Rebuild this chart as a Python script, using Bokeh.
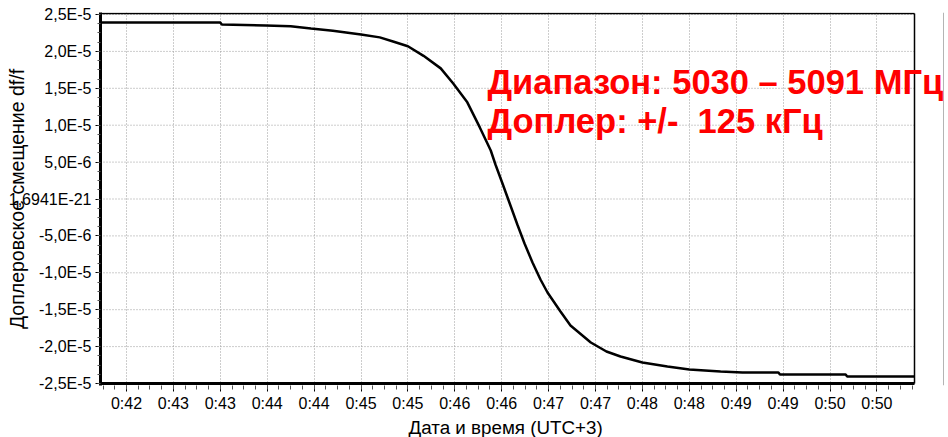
import numpy as np
from bokeh.plotting import figure
from bokeh.models import FixedTicker, Label, Range1d, Title
from bokeh.embed import file_html
from bokeh.resources import INLINE

# ---- data ----
times = ["0:42:13", "0:43:30", "0:43:31", "0:43:59", "0:44:15", "0:44:28", "0:44:42",
         "0:45:00", "0:45:12", "0:45:21", "0:45:30", "0:45:40", "0:45:51", "0:45:59",
         "0:46:08", "0:46:16", "0:46:23", "0:46:26", "0:46:30.5", "0:46:35.6", "0:46:40",
         "0:46:44.6", "0:46:49.7", "0:46:54.8", "0:46:59.3", "0:47:07.6", "0:47:14",
         "0:47:27", "0:47:37", "0:47:46", "0:48:00", "0:48:16", "0:48:30", "0:48:50",
         "0:49:04", "0:49:27", "0:49:28", "0:50:10", "0:50:11", "0:50:54"]
doppler = [2.39e-5, 2.39e-5, 2.365e-5, 2.35e-5, 2.34e-5, 2.31e-5, 2.28e-5,
           2.23e-5, 2.19e-5, 2.13e-5, 2.07e-5, 1.94e-5, 1.77e-5, 1.565e-5,
           1.31e-5, 0.97e-5, 0.657e-5, 0.4675e-5, 0.21e-5, -0.088e-5, -0.346e-5,
           -0.603e-5, -0.86e-5, -1.091e-5, -1.267e-5, -1.524e-5, -1.714e-5,
           -1.944e-5, -2.066e-5, -2.134e-5, -2.215e-5, -2.27e-5, -2.31e-5, -2.337e-5,
           -2.35e-5, -2.35e-5, -2.378e-5, -2.378e-5, -2.405e-5, -2.405e-5]

x_tick_times = ["0:42:30", "0:43:00", "0:43:30", "0:44:00", "0:44:30", "0:45:00",
                "0:45:30", "0:46:00", "0:46:30", "0:47:00", "0:47:30", "0:48:00",
                "0:48:30", "0:49:00", "0:49:30", "0:50:00", "0:50:30"]
x_tick_labels = ["0:42", "0:43", "0:43", "0:44", "0:44", "0:45", "0:45", "0:46",
                 "0:46", "0:47", "0:47", "0:48", "0:48", "0:49", "0:49", "0:50", "0:50"]

y_ticks = [-2.5e-5, -2.0e-5, -1.5e-5, -1.0e-5, -5.0e-6, 0.0,
           5.0e-6, 1.0e-5, 1.5e-5, 2.0e-5, 2.5e-5]
y_tick_labels = ["-2,5E-5", "-2,0E-5", "-1,5E-5", "-1,0E-5", "-5,0E-6", "1,6941E-21",
                 "5,0E-6", "1,0E-5", "1,5E-5", "2,0E-5", "2,5E-5"]

x_title = "Дата и время (UTC+3)"
y_title = "Доплеровское смещение df/f"
note_line1 = "Диапазон: 5030 – 5091 МГц"
note_line2 = "Доплер: +/-\u00a0 125 кГц"


def to_sec(s):
    h, m, sec = s.split(":")
    return int(h) * 3600 + int(m) * 60 + float(sec)


# ---- layout (pixel geometry of the reference) ----
W, H = 948, 437
FRAME_L, FRAME_R, FRAME_T, FRAME_B = 100, 946, 12, 385
T0 = to_sec(x_tick_times[0])
T0_PX, PX_PER_30S = 126.0, 46.9
Y_TOP_PX, Y_BOT_PX = 14.0, 383.0
Y_TOP, Y_BOT = y_ticks[-1], y_ticks[0]


def xd(px):
    return T0 + (px - T0_PX) * 30.0 / PX_PER_30S


def yd(py):
    return Y_TOP - (py - Y_TOP_PX) * (Y_TOP - Y_BOT) / (Y_BOT_PX - Y_TOP_PX)


BOX_R = xd(914)        # right edge of the plot box
BOX_T = yd(13)         # top edge of the plot box
GRAY_X = xd(943)       # thin gray page border line

xs = [to_sec(t) for t in times]
xt = [to_sec(t) for t in x_tick_times]
x_minor = [v for v in np.arange(xt[0] - 30, xt[-1] + 30.01, 7.5) if v < BOX_R]
y_minor = list(np.arange(Y_BOT, Y_TOP + 1e-12, (y_ticks[1] - y_ticks[0]) / 4))

FONT = "Liberation Sans"

p = figure(width=W, height=H, output_backend="svg", toolbar_location=None,
           x_range=Range1d(xd(FRAME_L), xd(FRAME_R)),
           y_range=Range1d(yd(FRAME_B), yd(FRAME_T)),
           min_border_left=FRAME_L, min_border_right=W - FRAME_R,
           min_border_top=FRAME_T, min_border_bottom=H - FRAME_B)
p.outline_line_color = None
p.background_fill_color = "white"
p.border_fill_color = "white"

# grid
p.ygrid.visible = False
p.xgrid.grid_line_color = "#9a9a9a"
p.xgrid.grid_line_dash = "1 2"
p.xgrid.grid_line_width = 1
n = len(y_ticks)
p.segment(x0=[xd(FRAME_L)] * n, y0=y_ticks, x1=[BOX_R] * n, y1=y_ticks,
          line_color="#9a9a9a", line_dash="1 2", line_width=1)

# plot box: top and right borders, bottom axis line, gray page border
p.segment(x0=[xd(FRAME_L), BOX_R], y0=[BOX_T, BOX_T], x1=[BOX_R, BOX_R], y1=[BOX_T, Y_BOT],
          line_color="black", line_width=1.5)
p.segment(x0=[xd(FRAME_L)], y0=[Y_BOT], x1=[BOX_R], y1=[Y_BOT],
          line_color="black", line_width=3)
p.segment(x0=[GRAY_X], y0=[yd(FRAME_T)], x1=[GRAY_X], y1=[yd(FRAME_B)],
          line_color="#b4b4b4", line_width=1)

# data
p.line(x=xs, y=doppler, line_color="black", line_width=2.5)

xa = p.xaxis[0]
xa.ticker = FixedTicker(ticks=xt, minor_ticks=x_minor)
xa.major_label_overrides = {t: l for t, l in zip(xt, x_tick_labels)}
xa.axis_line_color = None
ya = p.yaxis[0]
ya.ticker = FixedTicker(ticks=y_ticks, minor_ticks=y_minor)
ya.major_label_overrides = {t: l for t, l in zip(y_ticks, y_tick_labels)}
ya.axis_line_width = 3
ya.axis_line_color = "black"

for ax in (xa, ya):
    ax.major_tick_in = 0
    ax.minor_tick_in = 0
    ax.major_tick_line_color = "black"
    ax.minor_tick_line_color = "#555555"
    ax.major_label_text_font = FONT
    ax.major_label_text_font_size = "16px"
    ax.major_label_text_color = "black"
xa.major_tick_out = 6
xa.minor_tick_out = 4
xa.major_label_standoff = 3
ya.major_tick_out = 5
ya.minor_tick_out = 3
ya.major_label_standoff = 4

ya.axis_label = y_title
ya.axis_label_text_font = FONT
ya.axis_label_text_font_size = "19.5px"
ya.axis_label_text_font_style = "normal"
ya.axis_label_text_color = "black"
ya.axis_label_standoff = -22

p.add_layout(Title(text=x_title, align="left", offset=308, standoff=0,
                   text_font=FONT, text_font_size="18.8px", text_font_style="normal",
                   text_color="black"), "below")

p.add_layout(Label(x=xd(487), y=yd(81), text=note_line1,
                   text_align="left", text_baseline="alphabetic", text_font=FONT,
                   text_font_size="34.5px", text_font_style="bold", text_color="#ff0000"))
p.add_layout(Label(x=xd(487), y=yd(120), text=note_line2,
                   text_align="left", text_baseline="alphabetic", text_font=FONT,
                   text_font_size="34.5px", text_font_style="bold", text_color="#ff0000"))

open("out.html", "w").write(file_html(p, INLINE))
